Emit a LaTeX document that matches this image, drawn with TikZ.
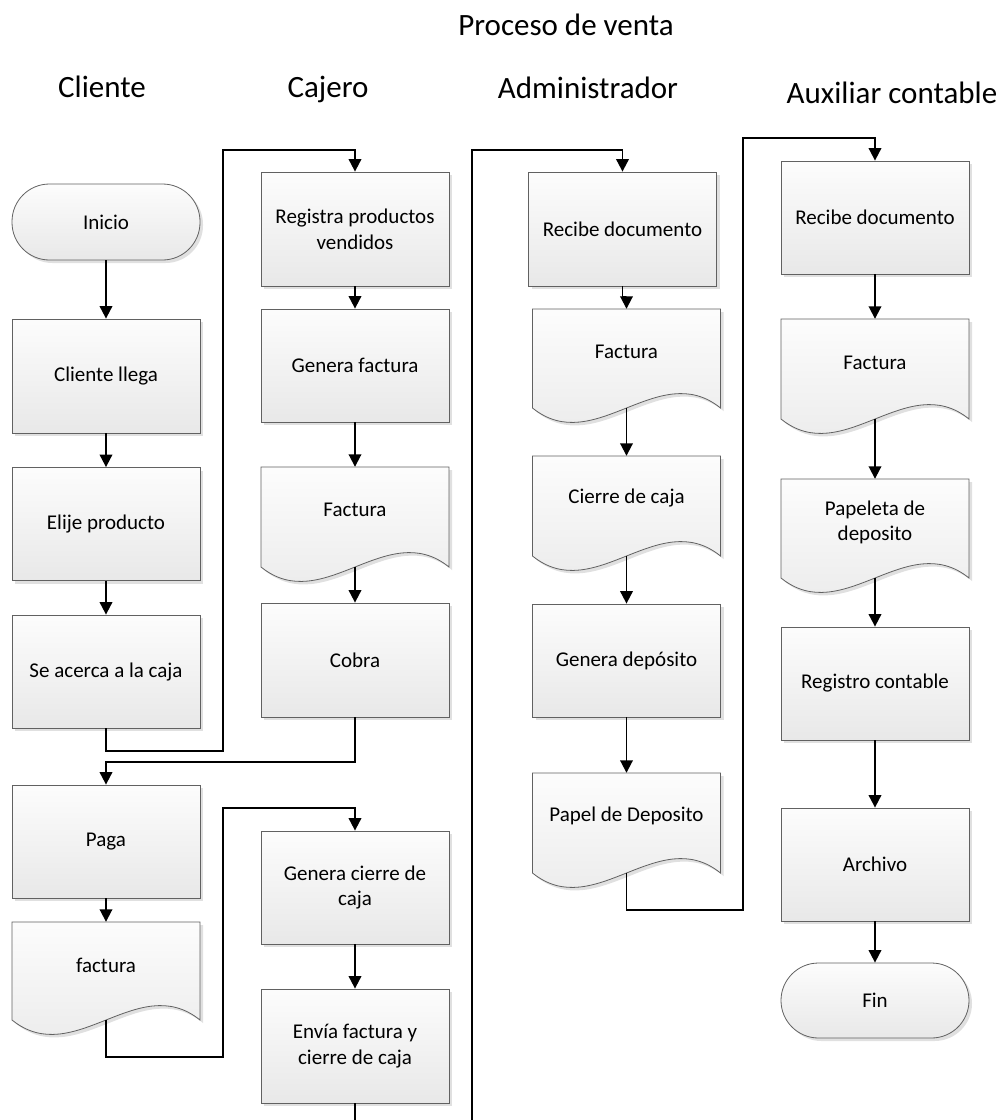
\documentclass[tikz,border=0pt]{standalone}
\usepackage{fontspec}
\setmainfont{Carlito}
\usetikzlibrary{arrows.meta,shadows}
\newcommand\boxfont{\fontsize{21}{25.6}\selectfont}
\newcommand\ttlfont{\fontsize{31}{37}\selectfont}
\tikzset{
  boxfill/.style={top color=black!1, bottom color=black!9, draw=black!62, line width=0.8pt},
  shad/.style={drop shadow={shadow xshift=3pt, shadow yshift=-3pt, fill=black!12, opacity=1}},
  proc/.style={boxfill, shad, rectangle, minimum width=188pt, minimum height=113pt, inner sep=2pt, align=center, font=\boxfont},
  term/.style={proc, rounded corners=37.5pt, minimum height=75pt},
  docnode/.style={draw=none, rectangle, minimum width=188pt, inner sep=0pt},
  arr/.style={line width=1.9pt, -{Triangle[length=12.5pt,width=12.5pt]}, line join=miter},
  ttl/.style={font=\ttlfont, anchor=base},
}
% #1 text yshift, #2 name, #3 centre x, #4 top y, #5 wave y, #6 text
\newcommand\docu[6][7]{%
  \fill[black!12] (#3-94+3,#4+3) -- (#3-94+3,#5+3) .. controls +(62,50) and +(-62,-50) .. (#3+94+3,#5+3) -- (#3+94+3,#4+3) -- cycle;
  \path[boxfill] (#3-94,#4) -- (#3-94,#5) .. controls +(62,50) and +(-62,-50) .. (#3+94,#5) -- (#3+94,#4) -- cycle;
  \node[docnode, minimum height={(#5-#4)*1pt}, label={[font=\boxfont, align=center, yshift=#1pt]center:#6}] (#2) at (#3,{(#4+#5)/2}) {};
}
\begin{document}
\begin{tikzpicture}[x=1pt, y=-1pt]
\useasboundingbox (0,0) rectangle (1005,1120);
\fill[white] (0,0) rectangle (1005,1120);

% titles
\node[ttl] (tproc) at (566,35) {Proceso de venta};
\node[ttl] (tcli) at (102,97) {Cliente};
\node[ttl] (tcaj) at (328,97) {Cajero};
\node[ttl] (tadm) at (588,98) {Administrador};
\node[ttl] (taux) at (892,103) {Auxiliar contable};

% Cliente
\node[term, minimum height=76pt] (inicio) at (106,222) {Inicio};
\node[proc, minimum height=114pt] (llega) at (106,376) {Cliente llega};
\node[proc] (elije) at (106,524) {Elije producto};
\node[proc] (acerca) at (106,671.5) {Se acerca a la caja};
\node[proc] (paga) at (106,841.5) {Paga};
\docu[6]{fac1}{106}{922}{1020}{factura}

% Cajero
\node[proc, minimum height=114pt] (registra) at (355,229) {Registra productos\\vendidos};
\node[proc] (genfac) at (355,365.5) {Genera factura};
\docu{fac2}{355}{467}{567}{Factura}
\node[proc, minimum height=114pt] (cobra) at (355,660) {Cobra};
\node[proc] (gencierre) at (355,887.5) {Genera cierre de\\caja};
\node[proc, minimum height=114pt] (envia) at (355,1046) {Envía factura y\\cierre de caja};

% Administrador
\node[proc, minimum height=114pt] (recibe1) at (622.5,229) {Recibe documento};
\docu{fac3}{626.5}{309}{408}{Factura}
\docu[8]{cierre}{626.5}{456}{556}{Cierre de caja}
\node[proc] (gendep) at (626.5,660.5) {Genera depósito};
\docu{papel}{626.5}{773}{873}{Papel de Deposito}

% Auxiliar contable
\node[proc] (recibe2) at (875,217.5) {Recibe documento};
\docu[6]{fac4}{875}{319}{419}{Factura}
\docu[6]{papeleta}{875}{479}{578}{Papeleta de\\deposito}
\node[proc] (registro) at (875,683.5) {Registro contable};
\node[proc] (archivo) at (875,864.5) {Archivo};
\node[term] (fin) at (875,1000.5) {Fin};

% connectors: Cliente
\draw[arr] (inicio.south) -- (llega.north);
\draw[arr] (llega.south) -- (elije.north);
\draw[arr] (elije.south) -- (acerca.north);
\coordinate (k1) at (223,751);
\coordinate (k2) at (223,150);
\draw[arr] (acerca.south) |- (k1) -- (k2) -| (registra.north);
\draw[arr] (paga.south) -- (fac1.north);
\coordinate (k4) at (223,1057);
\coordinate (k5) at (223,808);
\draw[arr] (fac1.south) |- (k4) -- (k5) -| (gencierre.north);

% Cajero
\draw[arr] (registra.south) -- (genfac.north);
\draw[arr] (genfac.south) -- (fac2.north);
\draw[arr] (fac2.south) -- (cobra.north);
\coordinate (k3) at (106,762.3);
\draw[arr] (cobra.south) |- (k3) -- (paga.north);
\draw[arr] (gencierre.south) -- (envia.north);
\coordinate (k6) at (472,1150);
\coordinate (k7) at (472,150);
\begin{scope}
\clip (0,0) rectangle (1005,1120);
\draw[arr] (envia.south) |- (k6) -- (k7) -| (recibe1.north);
\end{scope}

% Administrador
\coordinate (k8) at (622.5,297);
\draw[arr] (recibe1.south) -- (k8) -| (fac3.north);
\draw[arr] (fac3.south) -- (cierre.north);
\draw[arr] (cierre.south) -- (gendep.north);
\draw[arr] (gendep.south) -- (papel.north);
\coordinate (k9) at (743,910);
\coordinate (k10) at (743,138);
\draw[arr] (papel.south) |- (k9) -- (k10) -| (recibe2.north);

% Auxiliar
\draw[arr] (recibe2.south) -- (fac4.north);
\draw[arr] (fac4.south) -- (papeleta.north);
\draw[arr] (papeleta.south) -- (registro.north);
\draw[arr] (registro.south) -- (archivo.north);
\draw[arr] (archivo.south) -- (fin.north);
\end{tikzpicture}
\end{document}
